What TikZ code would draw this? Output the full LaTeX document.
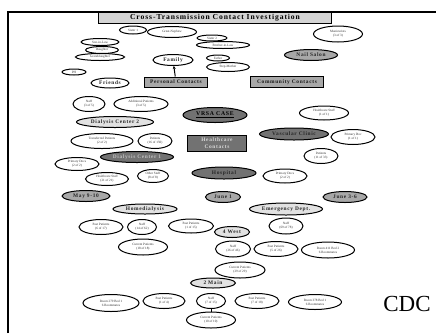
\documentclass[tikz,border=0pt]{standalone}
\usepackage{fontspec}
\setmainfont{Liberation Serif}
\newfontfamily\spc[LetterSpace=12]{Liberation Serif}
\usetikzlibrary{shapes.geometric,arrows.meta}
\definecolor{dkg}{HTML}{727272}
\definecolor{mdg}{HTML}{A8A8A8}
\definecolor{ltg}{HTML}{E2E2E2}
\definecolor{ttl}{HTML}{D4D4D4}
\tikzset{
  x=1pt,y=-1pt,
  sm/.style 2 args={ellipse,draw=black,line width=1pt,fill=white,inner sep=0pt,
     minimum width=#1pt,minimum height=#2pt,align=center,text=black!80,
     font=\fontsize{3.3}{3.8}\selectfont},
  lg/.style 2 args={ellipse,draw=black,line width=1pt,inner sep=0pt,
     minimum width=#1pt,minimum height=#2pt,align=center,text=black!85,
     font=\spc\bfseries\fontsize{5.4}{6}\selectfont},
  lt/.style={fill=ltg},
  md/.style={fill=mdg},
  dk/.style={fill=dkg},
  bx/.style 2 args={rectangle,draw=black,line width=1pt,inner sep=0pt,
     minimum width=#1pt,minimum height=#2pt,align=center,text=black!90,
     font=\spc\bfseries\fontsize{5.4}{6.4}\selectfont},
}
\begin{document}
\begin{tikzpicture}
\useasboundingbox (0,0) rectangle (436,333);
\fill[white] (0,0) rectangle (436,333);
% frame
\draw[line width=2pt] (8,333) -- (8,12) -- (436,12);
% title
\node[bx={233}{11},fill=ttl,font=\spc\bfseries\fontsize{7.6}{8}\selectfont,text=black] (title) at (215,18) {Cross-Transmission Contact Investigation};
% personal contacts
\node[sm={27}{8}] (sis1) at (133,30) {Sister 1};
\node[sm={49}{11}] (gnep) at (172,32) {Great-Nephew};
\node[sm={38}{7}] (sil) at (100,42) {Son-in-Law};
\node[sm={33}{7}] (dau) at (102,50) {Daughter};
\node[sm={49}{7}] (gdau) at (100,57) {Granddaughter};
\node[sm={24}{6}] (ph) at (74,72) {PH};
\node[sm={30}{6}] (sis2) at (212,38) {Sister 2};
\node[sm={53}{7}] (bil) at (223,45) {Brother-in-Law};
\node[sm={23}{6}] (father) at (218,58) {Father};
\node[sm={43}{9}] (stepm) at (228,67) {Step-Mother};
\node[lg={40}{11},fill=white] (fam) at (173,60) {Family};
\node[lg={38}{10},fill=white] (friends) at (110,83) {Friends};
\node[bx={63}{10},fill=mdg] (pc) at (176,82) {Personal Contacts};
\draw[line width=1pt,-{Stealth[length=3pt,width=3pt]}] (pc) -- (fam);
% community
\node[sm={49}{16}] (mani) at (338,34) {Manicurists\\(3 of 3)};
\node[lg={53}{11},md] (nail) at (311,55) {Nail Salon};
\node[bx={73}{11},fill=mdg] (cc) at (287,82) {Community Contacts};
% healthcare
\node[sm={32}{15}] (staffA) at (89,104) {Staff\\(3 of 5)};
\node[sm={54}{15}] (addp) at (141,104) {Additional Patients\\(3 of 5)};
\node[lg={77}{11},lt] (dc2) at (115,122) {Dialysis Center 2};
\node[sm={62}{15}] (trp) at (102,141) {Transferred Patients\\(2 of 2)};
\node[sm={34}{15}] (p150) at (155,141) {Patients\\(16 of 150)};
\node[lg={64}{15},dk,text=black,font=\spc\bfseries\fontsize{5.8}{6.5}\selectfont] (vrsa) at (215,115) {\underline{VRSA CASE}};
\node[bx={59}{16},fill=dkg,text=black!15] (hc) at (217,143) {Healthcare\\Contacts};
\node[lg={73}{11},dk,text=black!25] (dc1) at (137,157) {Dialysis Center 1};
\node[sm={44}{13}] (pdA) at (77,164) {Primary Docs\\(2 of 2)};
\node[sm={49}{14}] (hsB) at (324,113) {Healthcare Staff\\(1 of 1)};
\node[lg={69}{12},dk] (vasc) at (294,134) {Vascular Clinic};
\node[sm={44}{15}] (pdB) at (353,137) {Primary Doc\\(1 of 1)};
\node[sm={34}{15}] (p33) at (321,156) {Patients\\(11 of 33)};
\node[lg={64}{12},dk] (hosp) at (224,173) {Hospital};
\node[sm={44}{14}] (pdC) at (285,176) {Primary Docs\\(2 of 2)};
\node[sm={43}{13}] (hs21) at (107,179) {Healthcare Staff\\(21 of 21)};
\node[sm={31}{13}] (oth) at (153,176) {Other Staff\\(8 of 8)};
% dates
\node[lg={48}{11},md] (may) at (86,196) {May 9-10};
\node[lg={35}{11},md] (jun1) at (223,197) {June 1};
\node[lg={44}{11},md] (jun3) at (345,197) {June 3-6};
% homedialysis
\node[lg={64}{10},lt] (homed) at (145,209) {Homedialysis};
\node[sm={44}{15}] (pp17) at (101,227) {Past Patients\\(6 of 17)};
\node[sm={29}{15}] (st62) at (142,227) {Staff\\(14 of 62)};
\node[sm={45}{14}] (pp15) at (191,226) {Past Patients\\(1 of 15)};
\node[sm={49}{16}] (cp18) at (143,247) {Current Patients\\(18 of 18)};
% emergency
\node[lg={73}{12},lt] (ed) at (286,209) {Emergency Dept.};
\node[sm={34}{16}] (st78) at (286,226) {Staff\\(69 of 78)};
% 4 west
\node[lg={35}{11},lt] (w4) at (232,232) {4 West};
\node[sm={35}{16}] (st46) at (233,249) {Staff\\(26 of 46)};
\node[sm={44}{15}] (pp26) at (276,249) {Past Patients\\(5 of 26)};
\node[sm={53}{16}] (r411) at (328,250) {Room 411 Bed 2\\6 Roommates};
\node[sm={50}{16}] (cp29) at (240,270) {Current Patients\\(29 of 29)};
% 2 main
\node[lg={45}{10},lt] (m2) at (213,283) {2 Main};
\node[sm={56}{17}] (r279) at (111,303) {Room 279 Bed 1\\6 Roommates};
\node[sm={42}{15}] (pp4) at (164,301) {Past Patients\\(1 of 4)};
\node[sm={29}{15}] (st15) at (211,301) {Staff\\(7 of 15)};
\node[sm={44}{15}] (pp18) at (257,301) {Past Patients\\(7 of 18)};
\node[sm={53}{15}] (r378) at (315,302) {Room 378 Bed 1\\6 Roommates};
\node[sm={49}{16}] (cp10) at (211,320) {Current Patients\\(10 of 10)};
\draw[line width=1pt] (st15) -- (cp10);
% CDC
\node[inner sep=0pt,font=\fontsize{23}{23}\selectfont] (cdc) at (407,304) {CDC};
\end{tikzpicture}
\end{document}
